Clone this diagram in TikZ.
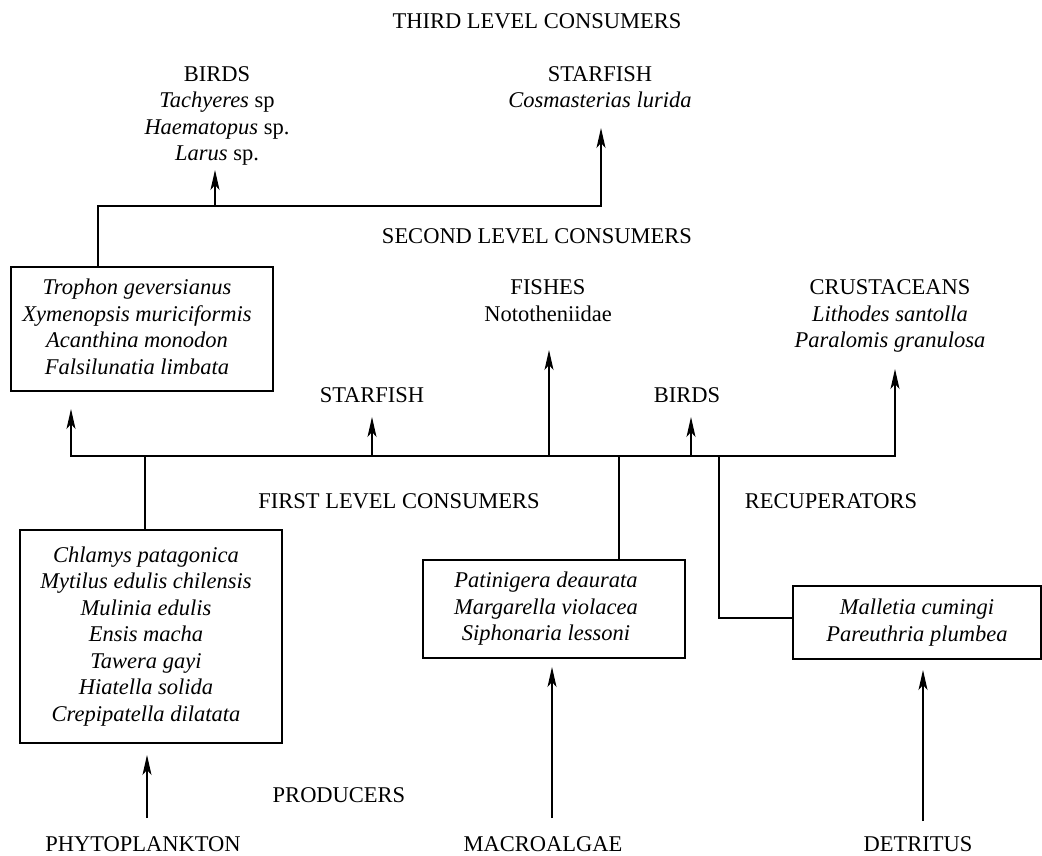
\documentclass[tikz,border=0pt]{standalone}
\usepackage{fontspec}
\setmainfont{Liberation Serif}
\usetikzlibrary{arrows.meta}
\newcommand{\lblstack}[2][t]{\begin{tabular}[#1]{@{}c@{}}#2\end{tabular}}
\begin{document}
\begin{tikzpicture}[x=1pt,y=-1pt,
  lbl/.style={inner sep=0pt, anchor=base, font=\fontsize{22.5}{26.5}\selectfont},
  boxtxt/.style={inner sep=0pt, anchor=center, font=\fontsize{22.5}{26.5}\selectfont},
  box/.style={draw, line width=1.2pt, inner sep=0pt},
  conn/.style={line width=1.2pt},
  arr/.style={conn, -{Stealth[length=20pt,width=9pt,inset=5pt]}},
  arr2/.style={conn, {Stealth[length=20pt,width=9pt,inset=5pt]}-{Stealth[length=20pt,width=9pt,inset=5pt]}}]
\useasboundingbox (0,0) rectangle (1042,856);

% level labels
\node[lbl] (third) at (537,28.5) {THIRD LEVEL CONSUMERS};
\node[lbl] (second) at (537,243) {SECOND LEVEL CONSUMERS};
\node[lbl] (first) at (399,508.5) {FIRST LEVEL CONSUMERS};
\node[lbl] (recup) at (831,508.5) {RECUPERATORS};
\node[lbl] (prod) at (339,802.5) {PRODUCERS};

% third level
\node[lbl] (birdsT) at (217,81.5) {\lblstack{BIRDS\\ \textit{Tachyeres} sp\\ \textit{Haematopus} sp.\\ \textit{Larus} sp.}};
\node[lbl] (starT) at (600,81.5) {\lblstack{STARFISH\\ \textit{Cosmasterias lurida}}};

% second level
\node[lbl] (fishes) at (548,294.5) {\lblstack{FISHES\\ Nototheniidae}};
\node[lbl] (crust) at (890,294.5) {\lblstack{CRUSTACEANS\\ \textit{Lithodes santolla}\\ \textit{Paralomis granulosa}}};
\node[lbl] (starM) at (372,402.5) {STARFISH};
\node[lbl] (birdsM) at (687,402.5) {BIRDS};

% boxes
\node[box, minimum width=262pt, minimum height=124pt] (b1) at (142,329) {};
\node[boxtxt] (t1) at (137,329) {\lblstack[c]{\textit{Trophon geversianus}\\ \textit{Xymenopsis muriciformis}\\ \textit{Acanthina monodon}\\ \textit{Falsilunatia limbata}}};

\node[box, minimum width=262pt, minimum height=213pt] (b2) at (151,636.5) {};
\node[boxtxt] (t2) at (146,636.5) {\lblstack[c]{\textit{Chlamys patagonica}\\ \textit{Mytilus edulis chilensis}\\ \textit{Mulinia edulis}\\ \textit{Ensis macha}\\ \textit{Tawera gayi}\\ \textit{Hiatella solida}\\ \textit{Crepipatella dilatata}}};

\node[box, minimum width=262pt, minimum height=98pt] (b3) at (554,609) {};
\node[boxtxt] (t3) at (546,609) {\lblstack[c]{\textit{Patinigera deaurata}\\ \textit{Margarella violacea}\\ \textit{Siphonaria lessoni}}};

\node[box, minimum width=248pt, minimum height=73pt] (b4) at (917,622.5) {};
\node[boxtxt] (t4) at (917,622.5) {\lblstack[c]{\textit{Malletia cumingi}\\ \textit{Pareuthria plumbea}}};

% producers
\node[lbl] (phyto) at (143,851.5) {PHYTOPLANKTON};
\node[lbl] (macro) at (543,851.5) {MACROALGAE};
\node[lbl] (detri) at (918,851.5) {DETRITUS};

% coordinates
\coordinate (tL) at (98,206);
\coordinate (tR) at (601,206);
\coordinate (tB) at (215,206);
\coordinate (tipStarT) at (601,128);
\coordinate (tipBirdT) at (215,170);

\coordinate (mL) at (71,456);
\coordinate (mR) at (895,456);
\coordinate (tipB1) at (71,409);
\coordinate (tipCrus) at (895,369);
\coordinate (mStar) at (372,456);
\coordinate (tipStarM) at (372,417);
\coordinate (mFish) at (549,456);
\coordinate (tipFish) at (549,350);
\coordinate (mBird) at (691,456);
\coordinate (tipBirdM) at (691,417);
\coordinate (mB2) at (145,456);
\coordinate (mB3) at (619,456);
\coordinate (mB4) at (719,456);
\coordinate (kB4) at (719,618);

\coordinate (sPhy) at (147,818);
\coordinate (sMac) at (552,818);
\coordinate (sDet) at (923,821);
\coordinate (tipPhy) at (147,755);
\coordinate (tipMac) at (552,667);
\coordinate (tipDet) at (923,670);

% third-level connectors
\draw[arr] (b1.north -| tL) -- (tL) -- (tR) -- (tipStarT);
\draw[arr] (tB) -- (tipBirdT);

% second-level connectors
\draw[arr2] (tipB1) -- (mL) -- (mR) -- (tipCrus);
\draw[arr] (mStar) -- (tipStarM);
\draw[arr] (mFish) -- (tipFish);
\draw[arr] (mBird) -- (tipBirdM);

% first level / recuperators up-links
\draw[conn] (mB2) -- (b2.north -| mB2);
\draw[conn] (mB3) -- (b3.north -| mB3);
\draw[conn] (mB4) -- (kB4) -- (b4.west |- kB4);

% producers
\draw[arr] (sPhy) -- (tipPhy);
\draw[arr] (sMac) -- (tipMac);
\draw[arr] (sDet) -- (tipDet);
\end{tikzpicture}
\end{document}
